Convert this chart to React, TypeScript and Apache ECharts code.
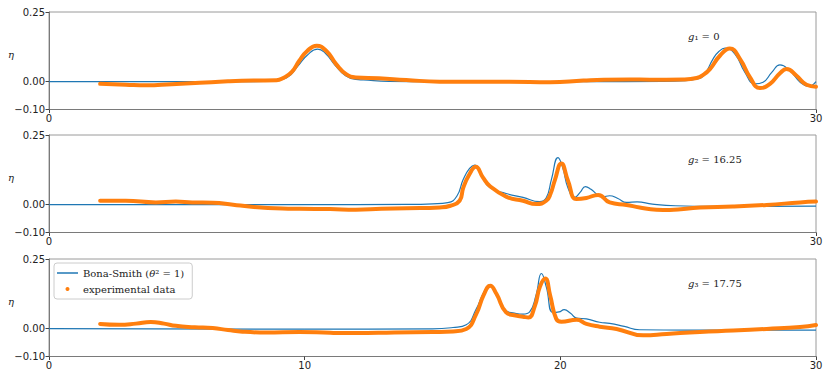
import { useEffect, useRef } from 'react';
import * as echarts from 'echarts';

const BS_NAME = 'Bona-Smith (θ² = 1)';
const EXP_NAME = 'experimental data';

const Y_TICKS = [-0.1, 0, 0.25];
const X_TICKS_TOP = [0, 30];
const X_TICKS_MID = [0, 30];
const X_TICKS_BOTTOM = [0, 10, 20, 30];
const PANEL_LABELS = ['₁ = 0', '₂ = 16.25', '₃ = 17.75'];

// Panel 1 (g1 = 0)
const bsX1 = [0, 8, 8.8, 9.3, 9.75, 10.1, 10.51, 10.8, 11.2, 11.6, 12.0, 12.3, 13.3, 15, 18, 21, 24, 24.9, 25.3, 25.6, 25.97, 26.2, 26.44, 26.83, 27.22, 27.61, 27.93, 28.27, 28.59, 28.98, 29.38, 29.7, 30];
const bsY1 = [0, 0, 0.004, 0.014, 0.058, 0.095, 0.117, 0.103, 0.058, 0.021, 0.008, 0.006, 0.001, 0, 0, 0, 0.001, 0.004, 0.009, 0.021, 0.081, 0.108, 0.12, 0.099, 0.033, -0.008, -0.002, 0.033, 0.06, 0.039, -0.002, -0.017, 0];
const exX1 = [2, 3, 3.8, 4.8, 5.9, 7, 8, 8.9, 9.14, 9.5, 9.79, 10.1, 10.47, 10.85, 11.23, 11.62, 12.0, 12.9, 13.97, 15.28, 16.5, 18, 19.6, 20.9, 21.7, 22.7, 23.5, 24.8, 25.33, 25.6, 25.85, 26.24, 26.63, 27.03, 27.42, 27.81, 28.2, 28.59, 28.85, 29.24, 29.63, 30];
const exY1 = [-0.008, -0.011, -0.013, -0.009, -0.004, 0.001, 0.004, 0.005, 0.012, 0.035, 0.075, 0.11, 0.129, 0.11, 0.063, 0.027, 0.015, 0.012, 0.006, 0.0, 0.0, 0.0, -0.002, 0.004, 0.007, 0.008, 0.007, 0.008, 0.013, 0.025, 0.045, 0.093, 0.119, 0.081, 0.015, -0.023, -0.008, 0.03, 0.045, 0.021, -0.011, -0.018];

// Panel 2 (g2 = 16.25)
const bsX2 = [0, 10, 14, 15, 15.6, 15.95, 16.2, 16.45, 16.65, 16.9, 17.23, 17.88, 18.54, 19.19, 19.45, 19.65, 19.91, 20.1, 20.3, 20.56, 20.78, 20.98, 21.2, 21.45, 21.65, 21.93, 22.25, 22.59, 23.0, 23.6, 24.5, 26, 28, 30];
const bsY2 = [0, 0, 0.001, 0.003, 0.007, 0.03, 0.09, 0.13, 0.142, 0.11, 0.062, 0.04, 0.026, 0.011, 0.025, 0.09, 0.169, 0.13, 0.06, 0.026, 0.045, 0.065, 0.055, 0.036, 0.028, 0.032, 0.022, 0.008, 0.01, 0.002, -0.004, -0.006, -0.006, -0.005];
const exX2 = [2, 3, 4.18, 4.96, 5.6, 6.4, 7.2, 7.83, 9.13, 9.8, 11, 12, 13, 14, 15.28, 15.7, 16.06, 16.2, 16.45, 16.69, 16.97, 17.23, 17.88, 18.54, 19.06, 19.45, 19.62, 19.78, 20.04, 20.3, 20.63, 21.02, 21.48, 21.93, 22.59, 23.1, 23.76, 24.28, 25.46, 26.75, 28.07, 29.38, 30];
const exY2 = [0.014, 0.014, 0.008, 0.011, 0.008, 0.007, 0.0, -0.007, -0.014, -0.015, -0.016, -0.018, -0.015, -0.013, -0.01, -0.004, 0.014, 0.06, 0.11, 0.136, 0.098, 0.068, 0.029, 0.014, 0.002, 0.014, 0.04, 0.086, 0.148, 0.086, 0.02, 0.024, 0.035, 0.008, -0.001, -0.01, -0.018, -0.019, -0.01, -0.007, -0.001, 0.008, 0.011];

// Panel 3 (g3 = 17.75)
const bsX3 = [0, 10, 15, 15.8, 16.32, 16.71, 17.0, 17.23, 17.5, 17.88, 18.2, 18.54, 18.8, 19.05, 19.26, 19.45, 19.71, 19.95, 20.15, 20.4, 20.64, 21.02, 21.54, 21.93, 22.5, 23.1, 25, 30];
const bsY3 = [0, -0.002, -0.001, 0.004, 0.014, 0.07, 0.13, 0.156, 0.12, 0.064, 0.056, 0.052, 0.06, 0.12, 0.198, 0.15, 0.058, 0.06, 0.068, 0.055, 0.038, 0.035, 0.023, 0.019, 0.008, -0.004, -0.005, -0.005];
const exX3 = [2, 2.74, 3.4, 3.98, 4.5, 4.96, 5.7, 6.4, 7.0, 7.57, 8.49, 9.8, 11, 12, 13.5, 15, 15.8, 16.32, 16.71, 17.0, 17.26, 17.5, 17.88, 18.2, 18.54, 18.75, 19.0, 19.2, 19.41, 19.6, 19.84, 20.04, 20.64, 21.02, 21.54, 22.2, 23.24, 24.16, 25.46, 26.76, 28.07, 29.38, 30];
const exY3 = [0.017, 0.014, 0.018, 0.024, 0.018, 0.01, 0.005, 0.002, -0.005, -0.011, -0.014, -0.012, -0.015, -0.016, -0.014, -0.012, -0.01, -0.001, 0.052, 0.12, 0.154, 0.125, 0.058, 0.048, 0.043, 0.04, 0.08, 0.15, 0.18, 0.12, 0.035, 0.025, 0.032, 0.017, 0.007, -0.001, -0.024, -0.019, -0.012, -0.007, -0.001, 0.006, 0.013];

const zip = (xs: number[], ys: number[]) => xs.map((x, i) => [x, ys[i]]);

const BLUE = '#1f77b4';
const ORANGE = '#ff7f0e';
const AXIS = '#7a7a7a';
const TEXT = '#222222';

export default function App() {
  const ref = useRef<HTMLDivElement>(null);

  useEffect(() => {
    const chart = echarts.init(ref.current!, null, { renderer: 'svg' });
    const tops = [12, 135, 259];
    const xTicks = [X_TICKS_TOP, X_TICKS_MID, X_TICKS_BOTTOM];
    const blues = [zip(bsX1, bsY1), zip(bsX2, bsY2), zip(bsX3, bsY3)];
    const exps = [zip(exX1, exY1), zip(exX2, exY2), zip(exX3, exY3)];

    const grid = tops.map((t) => ({
      left: 49,
      right: 14,
      top: t,
      height: 97.5,
      show: true,
      borderColor: '#9a9a9a',
      borderWidth: 1,
      backgroundColor: 'transparent',
    }));

    const xAxis = tops.map((_, i) => ({
      type: 'value',
      gridIndex: i,
      min: 0,
      max: 30,
      interval: 10,
      axisLine: { show: true, onZero: false, lineStyle: { color: AXIS, width: 1 } },
      axisTick: { show: true, customValues: xTicks[i], length: 3.5, lineStyle: { color: '#444' } },
      axisLabel: {
        customValues: xTicks[i],
        fontFamily: 'DejaVu Sans',
        fontSize: 10,
        color: TEXT,
        margin: 4,
      },
      splitLine: { show: false },
    }));

    const yAxis = tops.map((_, i) => ({
      type: 'value',
      gridIndex: i,
      min: -0.1,
      max: 0.25,
      axisLine: { show: true, lineStyle: { color: AXIS, width: 1 } },
      axisTick: { show: true, customValues: Y_TICKS, length: 3.5, lineStyle: { color: '#444' } },
      axisLabel: {
        customValues: Y_TICKS,
        fontFamily: 'DejaVu Sans',
        fontSize: 10,
        color: TEXT,
        margin: 4,
        formatter: (v: number) => (v < 0 ? '−' + Math.abs(v).toFixed(2) : v.toFixed(2)),
      },
      splitLine: { show: false },
    }));

    const series: any[] = [];
    tops.forEach((_, i) => {
      series.push({
        type: 'line',
        name: BS_NAME,
        xAxisIndex: i,
        yAxisIndex: i,
        data: blues[i],
        smooth: 0.5,
        showSymbol: false,
        lineStyle: { color: BLUE, width: 1.2 },
        itemStyle: { color: BLUE },
        z: 2,
      });
      series.push({
        type: 'line',
        name: EXP_NAME,
        xAxisIndex: i,
        yAxisIndex: i,
        data: exps[i],
        smooth: 0.5,
        showSymbol: false,
        lineStyle: { color: ORANGE, width: 4, cap: 'round', join: 'round' },
        itemStyle: { color: ORANGE },
        z: 3,
      });
    });

    const graphic: any[] = [];
    tops.forEach((t, i) => {
      graphic.push({
        type: 'text',
        left: 8,
        top: t + 37,
        style: { text: 'η', font: 'italic 10px "DejaVu Serif"', fill: TEXT },
      });
      graphic.push({
        type: 'text',
        left: 688,
        top: t + 19,
        style: {
          text: '{i|g}{n|' + PANEL_LABELS[i] + '}',
          rich: {
            i: { fontFamily: 'DejaVu Serif', fontStyle: 'italic', fontSize: 10, fill: TEXT },
            n: { fontFamily: 'DejaVu Serif', fontSize: 10, fill: TEXT },
          },
        },
      });
    });

    chart.setOption({
      animation: false,
      backgroundColor: '#ffffff',
      grid,
      xAxis,
      yAxis,
      series,
      graphic,
      legend: {
        left: 54,
        top: 263,
        orient: 'vertical',
        padding: [4, 8, 4, 3],
        itemGap: 4,
        itemWidth: 21,
        itemHeight: 4,
        borderColor: '#cccccc',
        borderWidth: 1,
        borderRadius: 3,
        backgroundColor: 'rgba(255,255,255,0.85)',
        itemStyle: { borderWidth: 0 },
        data: [
          { name: BS_NAME, icon: 'path://M0,0L21,0L21,1.5L0,1.5Z' },
          { name: EXP_NAME, icon: 'circle' },
        ],
        formatter: (name: string) =>
          name === BS_NAME ? '{n|Bona-Smith (}{i|θ}{n|² = 1)}' : '{n|' + name + '}',
        textStyle: {
          fontFamily: 'DejaVu Serif',
          fontSize: 10,
          color: TEXT,
          lineHeight: 12,
          rich: {
            n: { fontFamily: 'DejaVu Serif', fontSize: 10, color: TEXT, lineHeight: 12 },
            i: { fontFamily: 'DejaVu Serif', fontStyle: 'italic', fontSize: 10, color: TEXT, lineHeight: 12 },
          },
        },
      },
    });

    return () => chart.dispose();
  }, []);

  return (
    <div
      ref={ref}
      style={{ position: 'fixed', left: 0, top: 0, width: 830, height: 378, background: '#fff' }}
    />
  );
}
